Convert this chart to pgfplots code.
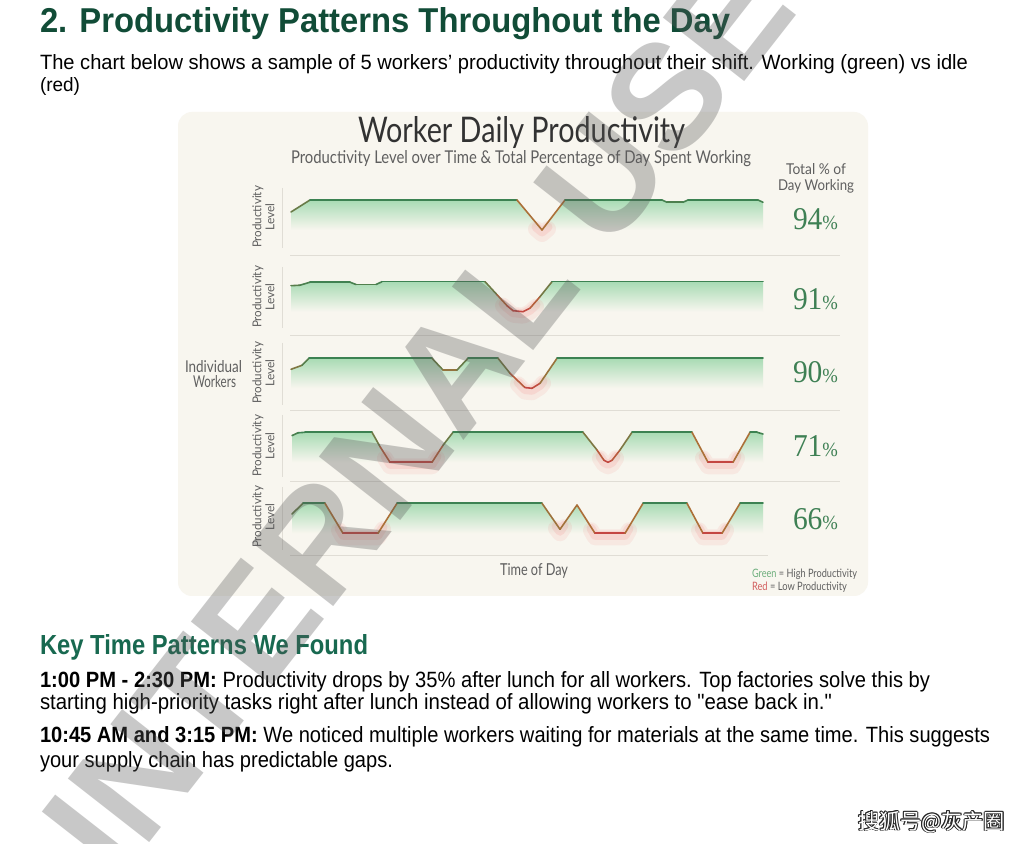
\documentclass[border=0pt]{standalone}
\usepackage{pgfplots}
\pgfplotsset{compat=1.18}
\usepackage{pgfplotstable}
\usepackage{fontspec}
\usepackage{graphicx}
\setmainfont{Liberation Sans}
\newfontfamily\plainq{Liberation Sans}
\newfontfamily\chartfont{Lato}
\newfontfamily\numfont{Liberation Serif}
\newfontfamily\cjk{Noto Sans CJK SC}

\definecolor{headgreen}{RGB}{17,76,55}
\definecolor{keygreen}{RGB}{24,105,80}
\definecolor{cream}{RGB}{248,246,239}
\definecolor{gfill}{RGB}{168,219,180}
\definecolor{glow}{RGB}{240,110,110}
\definecolor{sepgray}{RGB}{224,221,213}
\definecolor{labgray}{RGB}{95,95,95}
\definecolor{titlegray}{RGB}{50,50,50}
\definecolor{pctgreen}{RGB}{62,128,84}
\definecolor{leggreen}{RGB}{110,175,125}
\definecolor{legred}{RGB}{210,95,95}

\newcommand{\fit}[3]{\resizebox{#1pt}{#2pt}{#3}}

\pgfplotstableread{
x y
291 18
310 30
517 30
542 0
565 30
662 30
667 27.7
683 27.7
688 30
758 30
763 27.7
}\rowA
\pgfplotstableread{
x y
536 5
542 0
548 5
}\glowA
\pgfplotstableread{
x y
291 26
300 26.5
310 29.5
350 29.5
356 27.2
376 27.2
382 30
485 30
497 17
507 6
513 1
523 0
530 3.5
540 15
552 30
763 30
}\rowB
\pgfplotstableread{
x y
503 10
507 6
513 1
523 0
530 3.5
536 9
}\glowB
\pgfplotstableread{
x y
291 19
302 23
309 30
432 30
443 18.3
457 18.3
468 30
498 30
510 15
525 0.7
532 0
540 5
557 30
763 30
}\rowC
\pgfplotstableread{
x y
518 8
525 0.7
532 0
540 5
543 9
}\glowC
\pgfplotstableread{
x y
292 26.7
298 29.5
305 30
372 30
380 15.7
390 0
432 0
443 17
453 30
583 30
597 12.3
604 2
608 0
612 2
620 12.3
632 30
692 30
708 0
733 0
750 30
757 30
763 28.3
}\rowD
\pgfplotstableread{
x y
385 8
390 0
432 0
437 8
nan nan
600 8
604 2
608 0
612 2
616 8
nan nan
703 8
708 0
733 0
737 8
}\glowD
\pgfplotstableread{
x y
292 19.3
303 30
325 30
343 0
378 0
397 30
542 30
560 4
577 28.3
595 0
625 0
643 30
687 30
703 0
722 0
740 30
763 30
}\rowE
\pgfplotstableread{
x y
339 7
343 0
378 0
383 8
nan nan
556 9
560 4
564 10
nan nan
591 7
595 0
625 0
629 7
nan nan
699 7
703 0
722 0
726 7
}\glowE

\pgfplotsset{
  rowaxis/.style={
    scale only axis, width=486pt, height=70pt,
    xmin=282, xmax=768, ymin=-25, ymax=45,
    hide axis, clip=false, anchor=south west,
    colormap={prod}{rgb255=(196,70,66) rgb255=(172,112,56) rgb255=(60,130,82)},
    point meta min=0, point meta max=30,
    unbounded coords=jump,
  },
}
\newcommand{\rowplots}[2]{%
  \addplot[draw=none, top color=gfill, middle color=gfill!40!cream, bottom color=cream] table {#1} \closedcycle;
  \addplot[glow, line width=16pt, opacity=0.10, line cap=round, line join=round, yshift=-4pt] table {#2};
  \addplot[glow, line width=9pt, opacity=0.14, line cap=round, line join=round, yshift=-2pt] table {#2};
  \addplot[mesh, point meta=y, line width=1.6pt, line join=round, line cap=round] table {#1};
}

\begin{document}
\begin{tikzpicture}[x=1pt,y=1pt, txt/.style={inner sep=0pt, outer sep=0pt, anchor=base west}]
\useasboundingbox (0,0) rectangle (1024,843);
\clip (0,0) rectangle (1024,843);
\fill[white] (0,0) rectangle (1024,843);
% document heading and paragraph
\node[txt, text=headgreen] at (40,810) {\fit{690}{25}{\bfseries 2. Productivity Patterns Throughout the Day}};
\node[txt] at (40,773) {\fit{928}{15}{The chart below shows a sample of 5 workers’ productivity throughout their shift. Working (green) vs idle}};
\node[txt] at (40,751) {\fit{40}{14}{(red)}};
% card
\fill[cream, rounded corners=14pt] (178,247) rectangle (868,731);
% chart titles
\node[txt, text=titlegray] at (358,700) {\fit{327}{26}{\chartfont Worker Daily Productivity}};
\node[txt, text=labgray] at (291,679) {\fit{460}{13}{\chartfont Productivity Level over Time \& Total Percentage of Day Spent Working}};
\node[txt, text=labgray] at (786,668) {\fit{60}{11}{\chartfont Total \% of}};
\node[txt, text=labgray] at (778,652) {\fit{76}{11}{\chartfont Day Working}};
\node[txt, text=labgray] at (185,470) {\fit{57}{12}{\chartfont Individual}};
\node[txt, text=labgray] at (193,455) {\fit{43}{12}{\chartfont Workers}};
\node[txt, text=labgray] at (500,267) {\fit{68}{12}{\chartfont Time of Day}};
\node[txt, text=labgray] at (752,265) {\fit{105}{8.5}{\chartfont\textcolor{leggreen}{Green} = High Productivity}};
\node[txt, text=labgray] at (752,252) {\fit{95}{8.5}{\chartfont\textcolor{legred}{Red} = Low Productivity}};
% rotated labels
\foreach \cy in {626,546,470,397,326}{
  \node[rotate=90, inner sep=0, text=labgray] at (258,\cy) {\fit{62}{9}{\chartfont Productivity}};
  \node[rotate=90, inner sep=0, text=labgray] at (270,\cy) {\fit{27}{9}{\chartfont Level}};
}
% separators
\draw[sepgray, line width=0.8pt] (290,588) -- (840,588)
  (290,507.3) -- (840,507.3)
  (290,432.3) -- (840,432.3)
  (290,362) -- (840,362)
  (290,288) -- (768,288);
\draw[sepgray, line width=0.8pt] (282,655) -- (282,595)
  (282,576) -- (282,515)
  (282,500) -- (282,438)
  (282,428) -- (282,366)
  (282,356) -- (282,293);
% rows
\begin{axis}[rowaxis, at={(282pt,588pt)}] \rowplots{\rowA}{\glowA} \end{axis}
\begin{axis}[rowaxis, at={(282pt,506.3pt)}] \rowplots{\rowB}{\glowB} \end{axis}
\begin{axis}[rowaxis, at={(282pt,429.7pt)}] \rowplots{\rowC}{\glowC} \end{axis}
\begin{axis}[rowaxis, at={(282pt,355.7pt)}] \rowplots{\rowD}{\glowD} \end{axis}
\begin{axis}[rowaxis, at={(282pt,284.7pt)}] \rowplots{\rowE}{\glowE} \end{axis}
% percentages
\foreach \p/\b in {94/613,91/533,90/460,71/386,66/313}{
  \node[txt, text=pctgreen] at (793,\b) {\fit{45}{21}{\numfont{\fontsize{30}{30}\selectfont \p}{\fontsize{19}{19}\selectfont\%}}};
}
% key patterns
\node[txt, text=keygreen] at (40,189) {\fit{328}{20}{\bfseries Key Time Patterns We Found}};
\node[txt] at (40,156) {\fit{890}{16}{\textbf{1:00 PM - 2:30 PM:} Productivity drops by 35\% after lunch for all workers. Top factories solve this by}};
\node[txt] at (40,134) {\fit{792}{16}{starting high-priority tasks right after lunch instead of allowing workers to {\plainq"}ease back in.{\plainq"}}};
\node[txt] at (40,101) {\fit{950}{16}{\textbf{10:45 AM and 3:15 PM:} We noticed multiple workers waiting for materials at the same time. This suggests}};
\node[txt] at (40,76) {\fit{353}{16}{your supply chain has predictable gaps.}};
% watermark
\node[rotate=52, text=black!65, text opacity=0.33, inner sep=0, font=\fontsize{150}{150}\selectfont\bfseries] at (418,428) {INTERNAL USE};
% sohu mark
\foreach \dx/\dy in {-0.9/0,0.9/0,0/-0.9,0/0.9,-0.65/-0.65,0.65/0.65,-0.65/0.65,0.65/-0.65}{
  \node[txt, text=black!85] at (858+\dx,14+\dy) {\fit{147}{18}{\cjk 搜狐号@灰产圈}};
}
\node[txt, text=white] at (858,14) {\fit{147}{18}{\cjk 搜狐号@灰产圈}};
\end{tikzpicture}
\end{document}
